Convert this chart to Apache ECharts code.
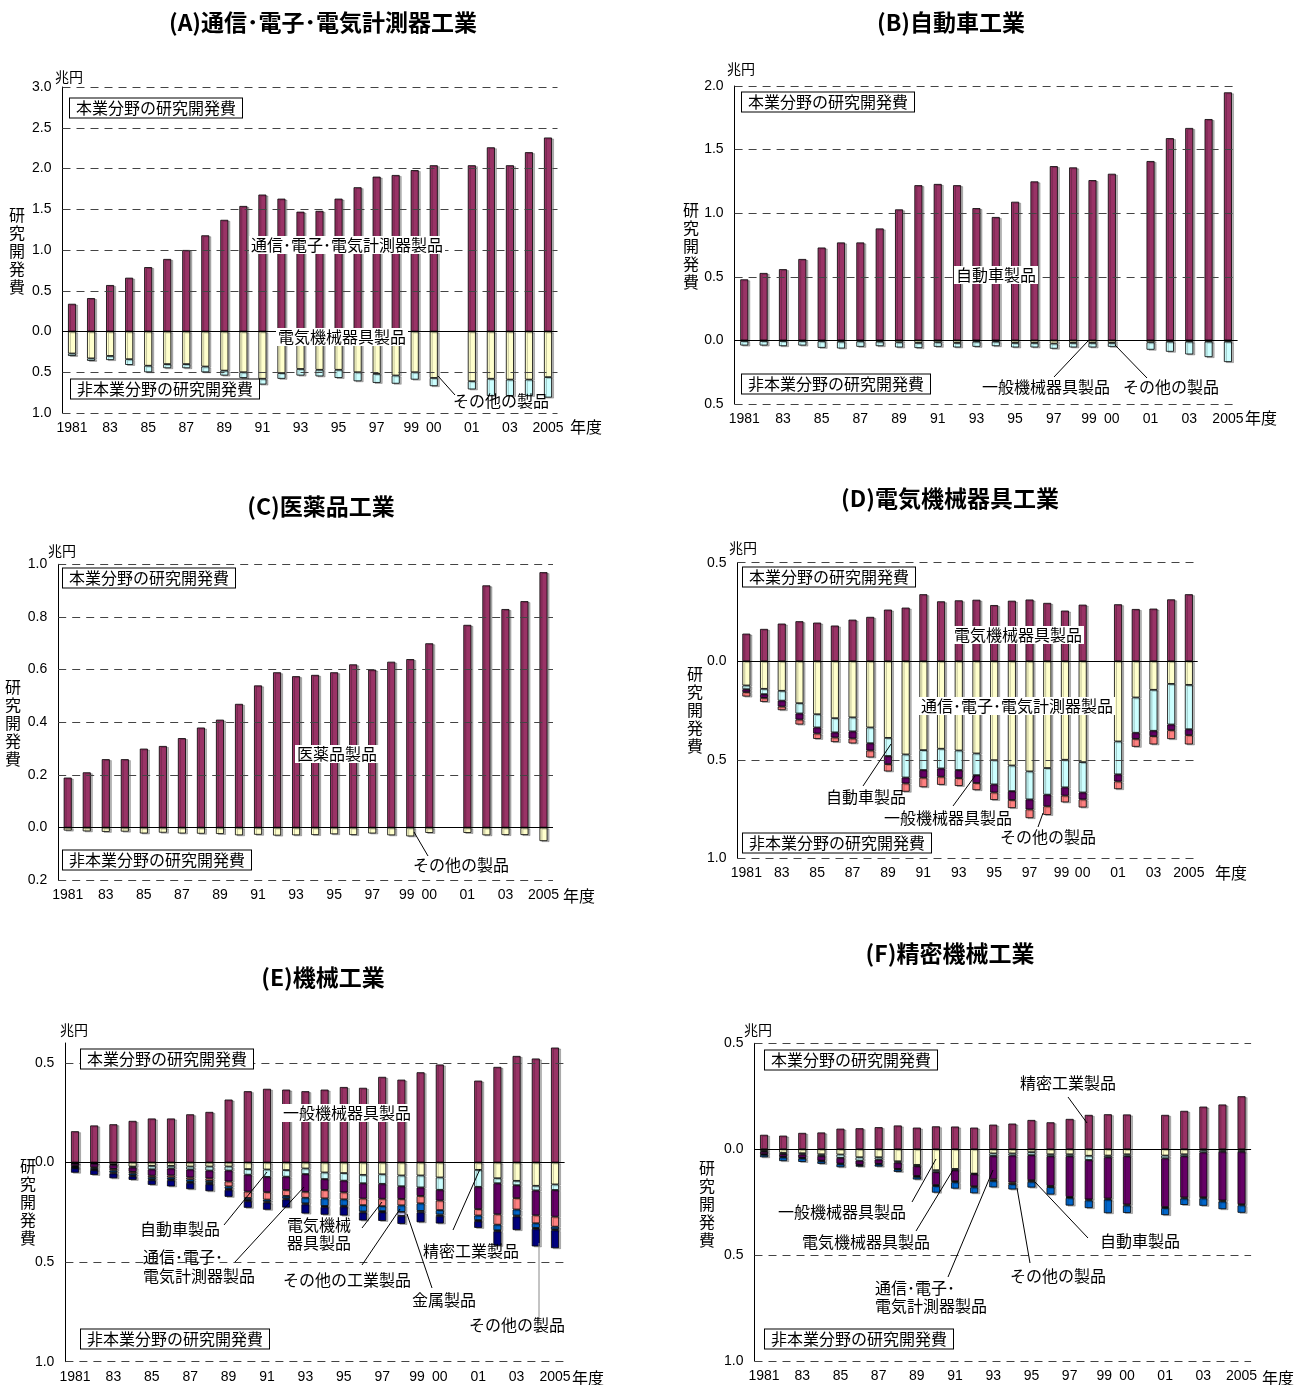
<!DOCTYPE html>
<html><head><meta charset="utf-8">
<script src="https://cdn.jsdelivr.net/npm/echarts@6/dist/echarts.min.js"></script>
<style>html,body{margin:0;padding:0;background:#fff}#c{width:1296px;height:1385px}</style>
</head><body><div id="c"></div><script>
// ---- categories / ticks ----
const categories = ['1981','1982','1983','1984','1985','1986','1987','1988','1989','1990','1991','1992','1993','1994','1995','1996','1997','1998','1999','2000','','2001','2002','2003','2004','2005'];
const tickLabels = ['1981','','83','','85','','87','','89','','91','','93','','95','','97','','99\u2002','00','','01','','03','','2005'];

// ---- (A) 通信・電子・電気計測器工業 ----
const aMain  = [0.34,0.41,0.57,0.66,0.79,0.89,1.00,1.18,1.37,1.54,1.68,1.63,1.47,1.48,1.63,1.77,1.90,1.92,1.98,2.04, 2.04,2.26,2.04,2.20,2.38];
const aElec  = [0.27,0.33,0.30,0.34,0.42,0.40,0.40,0.43,0.48,0.50,0.58,0.51,0.46,0.47,0.47,0.50,0.52,0.54,0.50,0.57, 0.61,0.58,0.59,0.59,0.56];
const aOther = [0.03,0.03,0.05,0.07,0.08,0.05,0.05,0.07,0.06,0.07,0.07,0.07,0.08,0.08,0.10,0.11,0.11,0.10,0.09,0.10, 0.10,0.21,0.20,0.20,0.25];

// ---- (B) 自動車工業 ----
const bMain  = [0.48,0.53,0.56,0.64,0.73,0.77,0.77,0.88,1.03,1.22,1.23,1.22,1.04,0.97,1.09,1.25,1.37,1.36,1.26,1.31, 1.41,1.59,1.67,1.74,1.95];
const bGen   = [0.005,0.005,0.005,0.005,0.007,0.010,0.008,0.010,0.015,0.020,0.015,0.020,0.010,0.010,0.020,0.020,0.025,0.020,0.020,0.020, 0.015,0.010,0.010,0.010,0.010];
const bOther = [0.035,0.035,0.040,0.035,0.051,0.053,0.042,0.035,0.040,0.040,0.035,0.035,0.040,0.035,0.035,0.035,0.040,0.035,0.035,0.030, 0.058,0.079,0.100,0.121,0.160];

// ---- (C) 医薬品工業 ----
const cMain  = [0.19,0.21,0.26,0.26,0.30,0.31,0.34,0.38,0.41,0.47,0.54,0.59,0.575,0.58,0.59,0.62,0.60,0.63,0.64,0.70, 0.77,0.92,0.83,0.86,0.97];
const cOther = [0.011,0.014,0.016,0.015,0.022,0.019,0.022,0.023,0.024,0.029,0.027,0.030,0.029,0.028,0.025,0.028,0.022,0.029,0.033,0.020, 0.020,0.029,0.028,0.028,0.051];

// ---- (D) 電気機械器具工業 ----
const dMain  = [0.14,0.164,0.191,0.203,0.196,0.181,0.211,0.225,0.262,0.272,0.34,0.304,0.309,0.312,0.285,0.307,0.313,0.296,0.257,0.287, 0.289,0.265,0.267,0.314,0.34];
const dComm  = [0.123,0.14,0.15,0.213,0.269,0.289,0.285,0.336,0.389,0.473,0.451,0.444,0.453,0.468,0.502,0.529,0.559,0.542,0.50,0.512, 0.407,0.184,0.145,0.115,0.12];
const dAuto  = [0.019,0.027,0.05,0.052,0.067,0.072,0.071,0.08,0.092,0.117,0.101,0.10,0.099,0.11,0.123,0.13,0.142,0.135,0.14,0.154, 0.167,0.179,0.208,0.206,0.225];
const dGen   = [0.015,0.019,0.03,0.031,0.031,0.026,0.036,0.037,0.041,0.03,0.039,0.042,0.041,0.04,0.041,0.045,0.051,0.059,0.042,0.035, 0.036,0.031,0.027,0.029,0.03];
const dOther = [0.022,0.02,0.018,0.025,0.027,0.023,0.025,0.035,0.037,0.042,0.048,0.041,0.04,0.036,0.038,0.041,0.044,0.044,0.034,0.041, 0.039,0.04,0.042,0.045,0.047];

// ---- (E) 機械工業 ----
const eMain  = [0.157,0.186,0.192,0.209,0.221,0.221,0.242,0.254,0.316,0.358,0.37,0.366,0.358,0.366,0.379,0.375,0.43,0.416,0.453,0.492, 0.411,0.48,0.535,0.522,0.577];
const ePrec  = [0.005,0.004,0.008,0.02,0.017,0.017,0.02,0.02,0.02,0.033,0.035,0.038,0.03,0.05,0.053,0.062,0.059,0.065,0.065,0.075, 0.037,0.079,0.092,0.117,0.11];
const eAuto  = [0.001,0.002,0.004,0.005,0.017,0.013,0.015,0.02,0.02,0.028,0.037,0.033,0.028,0.033,0.038,0.042,0.048,0.054,0.06,0.062, 0.085,0.025,0.022,0.023,0.028];
const eComm  = [0.012,0.018,0.02,0.022,0.032,0.035,0.04,0.04,0.055,0.085,0.077,0.067,0.089,0.055,0.059,0.077,0.075,0.064,0.043,0.054, 0.112,0.156,0.065,0.125,0.134];
const eElec  = [0.003,0.005,0.008,0.008,0.008,0.01,0.01,0.012,0.025,0.032,0.037,0.03,0.03,0.042,0.035,0.033,0.037,0.032,0.037,0.048, 0.032,0.052,0.057,0.04,0.05];
const eInd   = [0.005,0.006,0.01,0.01,0.01,0.01,0.012,0.01,0.012,0.01,0.01,0.012,0.028,0.038,0.032,0.032,0.025,0.033,0.038,0.022, 0.023,0.028,0.03,0.023,0.013];
const eMetal = [0.002,0.003,0.005,0.004,0.005,0.004,0.005,0.006,0.005,0.005,0.005,0.005,0.005,0.005,0.005,0.005,0.005,0.02,0.007,0.007, 0.005,0.005,0.005,0.005,0.005];
const eOther = [0.023,0.024,0.024,0.018,0.023,0.031,0.032,0.036,0.035,0.034,0.036,0.041,0.046,0.039,0.044,0.04,0.044,0.04,0.05,0.038, 0.034,0.073,0.068,0.088,0.09];

// ---- (F) 精密機械工業 ----
const fMain  = [0.068,0.064,0.077,0.079,0.097,0.099,0.104,0.112,0.102,0.108,0.107,0.102,0.116,0.121,0.138,0.127,0.143,0.162,0.165,0.164, 0.162,0.181,0.201,0.211,0.25];
const fGen   = [0.008,0.017,0.019,0.024,0.025,0.038,0.038,0.057,0.074,0.099,0.093,0.115,0.02,0.02,0.014,0.024,0.024,0.031,0.03,0.024, 0.03,0.024,0.006,0.006,0.006];
const fElec  = [0.004,0.006,0.006,0.008,0.016,0.016,0.011,0.006,0.006,0.009,0.006,0.003,0.012,0.01,0.014,0.009,0.009,0.02,0.008,0.009, 0.013,0.009,0.009,0.006,0.006];
const fComm  = [0.012,0.013,0.016,0.022,0.027,0.019,0.02,0.03,0.046,0.061,0.052,0.057,0.11,0.127,0.118,0.14,0.192,0.186,0.195,0.228, 0.23,0.195,0.212,0.23,0.248];
const fAuto  = [0.003,0.003,0.003,0.003,0.003,0.003,0.003,0.003,0.005,0.005,0.005,0.005,0.008,0.008,0.008,0.006,0.005,0.005,0.005,0.005, 0.005,0.005,0.005,0.005,0.005];
const fOther = [0.011,0.017,0.016,0.012,0.014,0.006,0.01,0.011,0.012,0.031,0.03,0.028,0.03,0.025,0.027,0.035,0.036,0.036,0.064,0.035, 0.033,0.03,0.035,0.036,0.035];

// ---- styling ----
const COL = {main:'#993366', yellow:'#FFFFCC', cyan:'#CCFFFF', purple:'#660066', salmon:'#FF8080', blue:'#0066CC', lav:'#CCCCFF', navy:'#000080', brown:'#996633'};
const JP = '"Noto Sans CJK JP", sans-serif';
const NUM = '"Liberation Sans", Arial, sans-serif';

function withGap(arr){ const a = arr.slice(0,20); a.push(null); return a.concat(arr.slice(20)); }
function negate(arr){ return withGap(arr).map(v => v == null ? null : -v); }

const panels = [
  {grid:{left:62.5, top:87, width:495, height:326}, min:-1, max:3, gmax:3, interval:0.5,
   series:[[aMain,COL.main,1],[aElec,COL.yellow],[aOther,COL.cyan]]},
  {grid:{left:734.6, top:86, width:503, height:318}, min:-0.5, max:2, gmax:2, interval:0.5,
   series:[[bMain,COL.main,1],[bGen,COL.yellow],[bOther,COL.cyan]]},
  {grid:{left:58.2, top:564.3, width:494.8, height:316}, min:-0.2, max:1, gmax:1, interval:0.2,
   series:[[cMain,COL.main,1],[cOther,COL.yellow]]},
  {grid:{left:737.5, top:562.7, width:460.2, height:295.6}, min:-1, max:0.5, gmax:0.5, interval:0.5,
   series:[[dMain,COL.main,1],[dComm,COL.yellow],[dAuto,COL.cyan],[dGen,COL.purple],[dOther,COL.salmon]]},
  {grid:{left:65.4, top:1043, width:499.2, height:318.7}, min:-1, max:0.6, gmax:0.5, interval:0.5,
   series:[[eMain,COL.main,1],[ePrec,COL.yellow],[eAuto,COL.cyan],[eComm,COL.purple],[eElec,COL.salmon],[eInd,COL.blue],[eMetal,COL.lav],[eOther,COL.navy]]},
  {grid:{left:754.5, top:1043.3, width:496.6, height:317.7}, min:-1, max:0.5, gmax:0.5, interval:0.5,
   series:[[fMain,COL.main,1],[fGen,COL.yellow],[fElec,COL.cyan],[fComm,COL.purple],[fAuto,COL.brown],[fOther,COL.blue]]}
];

const option = {animation:false, backgroundColor:'#fff', grid:[], xAxis:[], yAxis:[], series:[], graphic:{elements:[]}};

panels.forEach((p, i) => {
  option.grid.push(Object.assign({containLabel:false}, p.grid));
  option.xAxis.push({type:'category', gridIndex:i, data:categories,
    axisLine:{show:false}, axisTick:{show:false},
    axisLabel:{interval:0, margin:8, fontSize:14, color:'#000', fontFamily:NUM, formatter:(v, idx) => tickLabels[idx]}});
  option.yAxis.push({type:'value', gridIndex:i, min:p.min, max:p.max, interval:p.interval,
    axisLine:{show:true, lineStyle:{color:'#000', width:1}}, axisTick:{show:false}, splitLine:{show:false},
    axisLabel:{margin:11, fontSize:14, color:'#000', fontFamily:NUM,
      formatter:v => v > p.gmax + 1e-6 ? '' : Math.abs(v).toFixed(1)}});
  const gridTicks = [];
  for (let k = 0; ; k++) { const v = +(p.min + k*p.interval).toFixed(6); if (v > p.gmax + 1e-6) break; if (Math.abs(v) > 1e-6) gridTicks.push(v); }
  p.series.forEach((s, j) => {
    const ser = {type:'bar', xAxisIndex:i, yAxisIndex:i, stack:'s'+i, barWidth:8,
      data: s[2] ? withGap(s[0]) : negate(s[0]),
      itemStyle:{color:s[1], borderColor:'#000', borderWidth:0.8, shadowColor:'rgba(0,0,0,0.28)', shadowOffsetX:2, shadowOffsetY:1, shadowBlur:0}};
    if (j === 0) {
      ser.markLine = {silent:true, symbol:'none', label:{show:false}, animation:false,
        data: gridTicks.map(v => ({yAxis:v, lineStyle:{type:[8,6], color:'#444', width:1}}))
             .concat([{yAxis:0, lineStyle:{type:'solid', color:'#000', width:1}}])};
    }
    option.series.push(ser);
  });
});

// ---- annotations ----
const G = option.graphic.elements;
function txt(x, y, s, o) {
  o = o || {};
  const st = {text:s, font:(o.bold ? 'bold ' : '') + (o.size || 16) + 'px ' + (o.fam || JP), fill:'#000',
    align:o.align || 'left', verticalAlign:'middle'};
  if (o.lh) st.lineHeight = o.lh;
  if (o.bg) st.backgroundColor = o.bg;
  if (o.border) { st.borderColor = '#000'; st.borderWidth = 1; }
  if (o.pad) st.padding = o.pad;
  G.push({type:'text', x:x, y:y, z:100, style:st});
}
function line(x1, y1, x2, y2, c) { G.push({type:'line', z:99, shape:{x1:x1, y1:y1, x2:x2, y2:y2}, style:{stroke:c || '#000', lineWidth:1}}); }
function box(x, y, s) { txt(x, y, s, {border:1, bg:'#fff', pad:[2,6,1,6]}); }
function vert(x, y) { txt(x, y, '研\n究\n開\n発\n費', {align:'center', lh:18}); }

// titles
txt(323, 22, '(A)通信･電子･電気計測器工業', {bold:1, size:23, align:'center'});
txt(951, 22, '(B)自動車工業', {bold:1, size:23, align:'center'});
txt(321, 506, '(C)医薬品工業', {bold:1, size:23, align:'center'});
txt(950, 498, '(D)電気機械器具工業', {bold:1, size:23, align:'center'});
txt(323, 977, '(E)機械工業', {bold:1, size:23, align:'center'});
txt(950, 953, '(F)精密機械工業', {bold:1, size:23, align:'center'});

// units / axis names
[[55,77],[727,69],[48,551],[729,548],[60,1030],[744,1030]].forEach(q => txt(q[0], q[1], '兆円', {size:14}));
[[570,427],[1245,418],[563,896],[1215,873],[572,1378],[1262,1378]].forEach(q => txt(q[0], q[1], '年度', {size:16}));
vert(17, 251); vert(691, 246); vert(13, 723); vert(695, 710); vert(28, 1202); vert(707, 1204);

// boxes
box(70, 108, '本業分野の研究開発費'); box(71, 389, '非本業分野の研究開発費');
box(742, 102, '本業分野の研究開発費'); box(742, 384, '非本業分野の研究開発費');
box(63, 578, '本業分野の研究開発費'); box(63, 860, '非本業分野の研究開発費');
box(743, 577, '本業分野の研究開発費'); box(743, 843, '非本業分野の研究開発費');
box(81, 1059, '本業分野の研究開発費'); box(81, 1339, '非本業分野の研究開発費');
box(765, 1060, '本業分野の研究開発費'); box(765, 1339, '非本業分野の研究開発費');

const W = {bg:'#fff', pad:[1,2]};
// A
txt(249, 245, '通信･電子･電気計測器製品', W);
txt(276, 337, '電気機械器具製品', W);
txt(453, 401, 'その他の製品'); line(438, 376, 455, 395);
// B
txt(954, 275, '自動車製品', W);
txt(982, 387, '一般機械器具製品'); line(1054, 377, 1088, 341);
txt(1123, 387, 'その他の製品'); line(1115, 345, 1147, 378);
// C
txt(295, 754, '医薬品製品', W);
txt(413, 865, 'その他の製品'); line(414, 832, 428, 856);
// D
txt(952, 635, '電気機械器具製品', W);
txt(919, 706, '通信･電子･電気計測器製品', W);
txt(826, 797, '自動車製品'); line(891, 744, 863, 786);
txt(884, 818, '一般機械器具製品'); line(975, 776, 953, 806);
txt(1000, 837, 'その他の製品'); line(1043, 813, 1038, 827);
// E
txt(281, 1113, '一般機械器具製品', W);
txt(140, 1229, '自動車製品'); line(224, 1225, 267, 1172);
txt(143, 1266, '通信･電子･\n電気計測器製品', {lh:19}); line(235, 1262, 304, 1187);
txt(287, 1234, '電気機械\n器具製品', {lh:18}); line(362, 1228, 382, 1202);
txt(283, 1280, 'その他の工業製品'); line(362, 1265, 400, 1209);
txt(412, 1300, '金属製品'); line(432, 1288, 407, 1214);
txt(423, 1251, '精密工業製品'); line(453, 1230, 480, 1169);
txt(469, 1325, 'その他の製品'); line(539, 1320, 539, 1243, '#888');
// F
txt(1020, 1083, '精密工業製品'); line(1068, 1097, 1087, 1123);
txt(778, 1212, '一般機械器具製品'); line(912, 1202, 936, 1159);
txt(802, 1242, '電気機械器具製品'); line(916, 1231, 953, 1170);
txt(875, 1297, '通信･電子･\n電気計測器製品', {lh:18}); line(948, 1277, 993, 1170);
txt(1010, 1276, 'その他の製品'); line(1030, 1263, 1017, 1188);
txt(1100, 1241, '自動車製品'); line(1088, 1238, 1035, 1182);

const chart = echarts.init(document.getElementById('c'), null, {renderer:'canvas'});
chart.setOption(option);
</script></body></html>
